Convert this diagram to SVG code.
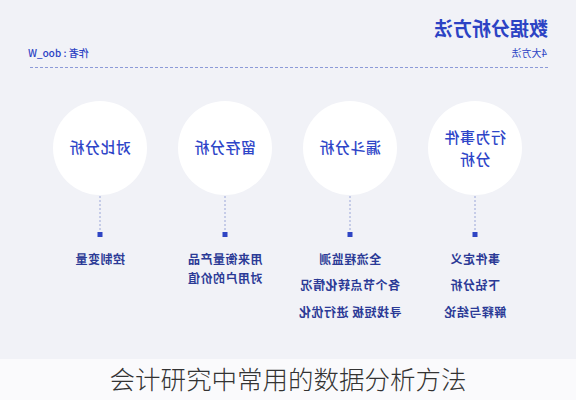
<svg xmlns="http://www.w3.org/2000/svg" width="576" height="400" viewBox="0 0 576 400">
<style>
.cjk{font-family:"Noto Sans CJK SC","Noto Sans",sans-serif}
.title{font-size:19px;font-weight:700;fill:#2c43c4}
.sub{font-size:10px;fill:#2c43c4}
.node circle{fill:#ffffff}
.ntext{font-size:15px;font-weight:500;fill:#2e45c8;text-anchor:middle;letter-spacing:0.5px}
.dtext{font-size:12px;font-weight:700;fill:#2b3a96;text-anchor:middle;letter-spacing:0.5px}
.vline{stroke:#9aa6d8;stroke-width:1;stroke-dasharray:2 2;fill:none}
.dot{fill:#2f45c4}
.caption{font-size:25.5px;fill:#333333;text-anchor:middle;font-weight:300}
</style>
<rect x="0" y="0" width="576" height="359" fill="#f1f2f7"/>
<rect x="0" y="359" width="576" height="41" fill="#fafafc"/>
<g id="mirrored" transform="matrix(-1 0 0 1 576 0)">
  <g id="header">
    <text class="cjk title" x="28" y="36">数据分析方法</text>
    <text class="cjk sub" x="29" y="57">4大方法</text>
    <text class="cjk sub" x="548" y="57" text-anchor="end" font-size="10" font-weight="500">作者 : doo_W</text>
    <line x1="28" y1="67.5" x2="548" y2="67.5" stroke="#8c9ad8" stroke-width="1" stroke-dasharray="3 2"/>
  </g>
  <g id="connectors">
    <line class="vline" x1="101" y1="196" x2="101" y2="232"/>
    <line class="vline" x1="226" y1="196" x2="226" y2="232"/>
    <line class="vline" x1="351" y1="196" x2="351" y2="232"/>
    <line class="vline" x1="476" y1="196" x2="476" y2="232"/>
    <rect class="dot" x="98.5" y="232" width="5" height="5"/>
    <rect class="dot" x="223.5" y="232" width="5" height="5"/>
    <rect class="dot" x="348.5" y="232" width="5" height="5"/>
    <rect class="dot" x="473.5" y="232" width="5" height="5"/>
  </g>
  <g id="node-behavior" class="node">
    <circle cx="101" cy="148" r="47"/>
    <text class="cjk ntext" x="101" y="143">行为事件</text>
    <text class="cjk ntext" x="101" y="165">分析</text>
  </g>
  <g id="node-funnel" class="node">
    <circle cx="226" cy="148" r="47"/>
    <text class="cjk ntext" x="226" y="153">漏斗分析</text>
  </g>
  <g id="node-retention" class="node">
    <circle cx="351" cy="148" r="47"/>
    <text class="cjk ntext" x="351" y="153">留存分析</text>
  </g>
  <g id="node-compare" class="node">
    <circle cx="476" cy="148" r="47"/>
    <text class="cjk ntext" x="476" y="153">对比分析</text>
  </g>
  <g id="desc-behavior">
    <text class="cjk dtext" x="101" y="264">事件定义</text>
    <text class="cjk dtext" x="101" y="290">下钻分析</text>
    <text class="cjk dtext" x="101" y="317">解释与结论</text>
  </g>
  <g id="desc-funnel">
    <text class="cjk dtext" x="226" y="264">全流程监测</text>
    <text class="cjk dtext" x="226" y="290">各个节点转化情况</text>
    <text class="cjk dtext" x="226" y="317">寻找短板 进行优化</text>
  </g>
  <g id="desc-retention">
    <text class="cjk dtext" x="351" y="264">用来衡量产品</text>
    <text class="cjk dtext" x="351" y="283">对用户的价值</text>
  </g>
  <g id="desc-compare">
    <text class="cjk dtext" x="476" y="264">控制变量</text>
  </g>
</g>
<text class="cjk caption" x="288" y="389">会计研究中常用的数据分析方法</text>
</svg>
